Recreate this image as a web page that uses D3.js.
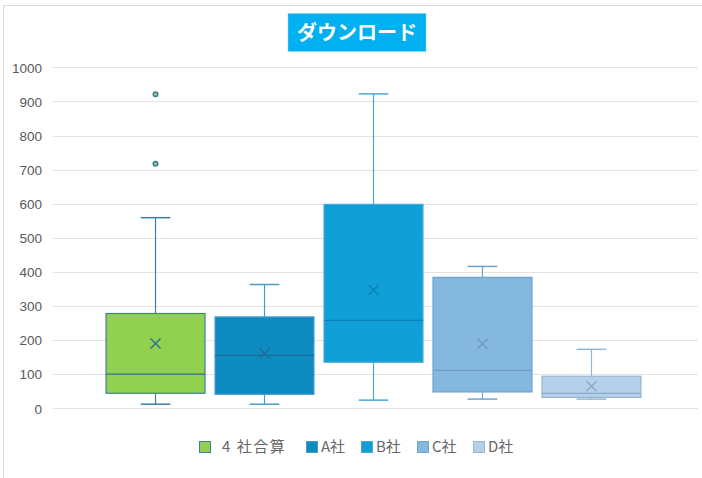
<!DOCTYPE html>
<html><head><meta charset="utf-8">
<script src="https://cdn.jsdelivr.net/npm/d3@7"></script>
<style>
html,body{margin:0;padding:0;background:#fff;}
svg{display:block;font-family:"Noto Sans CJK JP","Noto Sans",sans-serif;}
</style></head>
<body>
<script>
const title = "ダウンロード";
const series = ["４社合算", "A社", "B社", "C社", "D社"];
const legendLabels = ["4 社合算", "A社", "B社", "C社", "D社"];
const q1 = [44, 41, 135, 48, 32];
const median = [100, 155, 258, 111, 44];
const q3 = [278, 268, 598, 384, 94];
const whiskerLow = [12, 12, 24, 27, 27];
const whiskerHigh = [559, 363, 922, 416, 173];
const mean = [190, 161, 347, 189, 65];
const outliers = [[921, 717], [], [], [], []];
const yTicks = [0, 100, 200, 300, 400, 500, 600, 700, 800, 900, 1000];
const fills = ["#92D050", "#0E8BC0", "#109FD7", "#84B8DE", "#B4D0EA"];
const strokes = ["#3D7FA3", "#4A9CC6", "#4AAAD4", "#6EA3CC", "#98B6D2"];
const inner = ["#2F6F94", "#1A6E98", "#0C80B0", "#6A9CC4", "#8EA9C6"];

const W = 702, H = 478;
const svg = d3.select("body").append("svg").attr("width", W).attr("height", H);

svg.append("rect").attr("x", 3.5).attr("y", 5.5).attr("width", W + 10).attr("height", H + 10)
  .attr("fill", "none").attr("stroke", "#D9D9D9");

const x0 = 53, x1 = 698, yTop = 67.3, yBot = 408.3;
const y = d3.scaleLinear().domain([0, 1000]).range([yBot, yTop]);
const x = d3.scaleBand().domain(series).range([x0 - 2, x1 - 2]).paddingInner(0.092).paddingOuter(0.505);

svg.append("g").selectAll("line").data(yTicks).join("line")
  .attr("x1", x0).attr("x2", x1)
  .attr("y1", d => Math.round(y(d)) + 0.5).attr("y2", d => Math.round(y(d)) + 0.5)
  .attr("stroke", "#E3E3E3").attr("stroke-width", 1);

const yAxis = d3.axisLeft(y).tickValues(yTicks).tickFormat(d3.format("d")).tickSize(0).tickPadding(0);
const ga = svg.append("g").attr("transform", `translate(42,0)`).call(yAxis);
ga.select(".domain").remove();
ga.selectAll("text").attr("fill", "#595959").attr("font-size", 13.5)
  .attr("font-family", "Liberation Sans, Arial, sans-serif").attr("dy", "0.35em");

series.forEach((s, i) => {
  const g = svg.append("g");
  const bx = x(s), bw = x.bandwidth(), cx = bx + bw / 2, capW = bw * 0.3;
  g.append("line").attr("x1", cx).attr("x2", cx).attr("y1", y(whiskerHigh[i])).attr("y2", y(q3[i]))
    .attr("stroke", strokes[i]).attr("stroke-width", 1.2);
  g.append("line").attr("x1", cx).attr("x2", cx).attr("y1", y(q1[i])).attr("y2", y(whiskerLow[i]))
    .attr("stroke", strokes[i]).attr("stroke-width", 1.2);
  [whiskerHigh[i], whiskerLow[i]].forEach(v => {
    g.append("line").attr("x1", cx - capW / 2).attr("x2", cx + capW / 2).attr("y1", y(v)).attr("y2", y(v))
      .attr("stroke", strokes[i]).attr("stroke-width", 1.5);
  });
  g.append("rect").attr("x", bx).attr("width", bw).attr("y", y(q3[i])).attr("height", y(q1[i]) - y(q3[i]))
    .attr("fill", fills[i]).attr("stroke", strokes[i]).attr("stroke-width", 1.2);
  g.append("line").attr("x1", bx).attr("x2", bx + bw).attr("y1", y(median[i])).attr("y2", y(median[i]))
    .attr("stroke", inner[i]).attr("stroke-width", 1.2);
  const my = y(mean[i]), r = 5;
  g.append("path").attr("d", `M${cx - r},${my - r}L${cx + r},${my + r}M${cx - r},${my + r}L${cx + r},${my - r}`)
    .attr("stroke", inner[i]).attr("stroke-width", 1.4).attr("fill", "none");
  outliers[i].forEach(v => {
    g.append("circle").attr("cx", cx).attr("cy", y(v)).attr("r", 2.3)
      .attr("fill", fills[i]).attr("stroke", strokes[i]).attr("stroke-width", 1.5);
  });
});

const tg = svg.append("g");
tg.append("rect").attr("x", 288).attr("y", 13.5).attr("width", 138).attr("height", 38)
  .attr("fill", "#00B0F0").attr("stroke", "#7FD7F7").attr("stroke-width", 0.5);
tg.append("text").attr("x", 357).attr("y", 33).attr("text-anchor", "middle").attr("dy", "0.36em")
  .attr("fill", "#fff").attr("font-size", 20).attr("font-weight", "bold").text(title);

const legendX = [199, 306, 361, 417, 473];
const lg = svg.append("g");
legendLabels.forEach((l, i) => {
  lg.append("rect").attr("x", legendX[i] + 0.5).attr("y", 441.5).attr("width", 11).attr("height", 11)
    .attr("fill", fills[i]).attr("stroke", strokes[i]).attr("stroke-width", 1);
  lg.append("text").attr("x", legendX[i] + (i === 0 ? 23 : 15)).attr("y", 447).attr("dy", "0.36em")
    .attr("fill", "#666666").attr("font-size", 15)
    .attr("letter-spacing", i === 0 ? 1.5 : 0).text(l);
});
</script>
</body></html>
